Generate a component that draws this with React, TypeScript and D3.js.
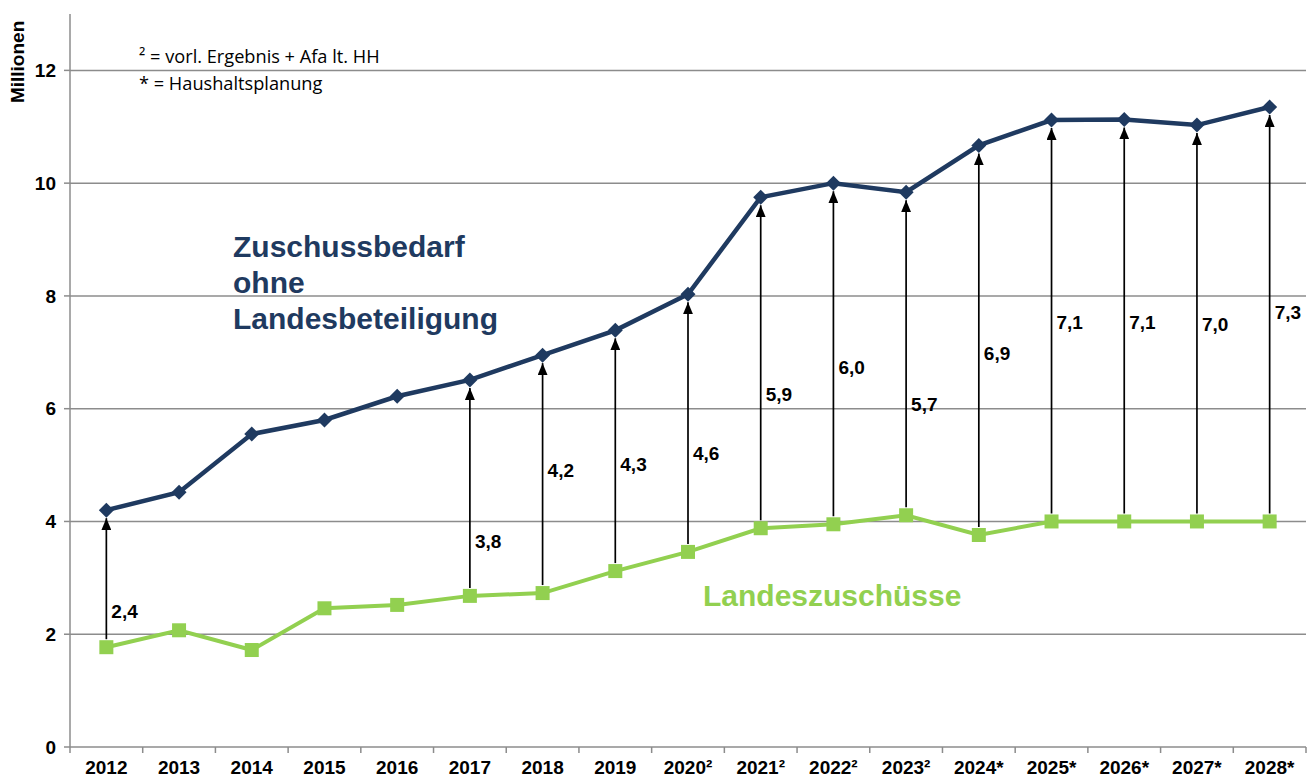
import React from 'react';
import * as d3 from 'd3';

const years = ['2012', '2013', '2014', '2015', '2016', '2017', '2018', '2019', '2020²', '2021²', '2022²', '2023²', '2024*', '2025*', '2026*', '2027*', '2028*'];
const zuschussbedarf = [4.2, 4.52, 5.55, 5.8, 6.22, 6.51, 6.95, 7.39, 8.03, 9.75, 10.0, 9.84, 10.67, 11.12, 11.13, 11.03, 11.35];
const landeszuschuesse = [1.77, 2.07, 1.72, 2.46, 2.52, 2.68, 2.73, 3.12, 3.46, 3.88, 3.95, 4.11, 3.76, 4.0, 4.0, 4.0, 4.0];
const arrowYears = ['2012', '2017', '2018', '2019', '2020²', '2021²', '2022²', '2023²', '2024*', '2025*', '2026*', '2027*', '2028*'];
const diffLabels = ['2,4', '3,8', '4,2', '4,3', '4,6', '5,9', '6,0', '5,7', '6,9', '7,1', '7,1', '7,0', '7,3'];
const diffLabelAt = [2.41, 3.65, 4.91, 5.02, 5.21, 6.26, 6.74, 6.08, 6.99, 7.54, 7.54, 7.5, 7.71];
const yTicks = [0, 2, 4, 6, 8, 10, 12];

const W = 1313;
const H = 778;
const margin = { top: 14, right: 7, bottom: 31, left: 70 };
const bold = 'Liberation Sans, Arial, sans-serif';

const App = () => {
  const x = d3.scaleBand().domain(years).range([margin.left, W - margin.right]);
  const y = d3.scaleLinear().domain([0, 13]).range([H - margin.bottom, margin.top]);
  const cx = (d: string) => (x(d) as number) + x.bandwidth() / 2;

  const line = d3.line<number>()
    .x((_, i) => cx(years[i]))
    .y((v) => y(v));

  // square turned 45 degrees, like the Excel marker
  const diamond = 'M0,-7.5L7.5,0L0,7.5L-7.5,0Z';

  return (
    <svg width={W} height={H} style={{ position: 'absolute', left: 0, top: 0, background: '#fff' }}>
      <defs>
        <marker id="ah" viewBox="0 0 12 10" refX="12" refY="5" markerWidth="12" markerHeight="10" markerUnits="userSpaceOnUse" orient="auto">
          <path d="M0,0 L12,5 L0,10 Z" fill="#000" />
        </marker>
      </defs>

      {yTicks.map((t) => (
        <g key={t}>
          {t > 0 && <line x1={margin.left} x2={W - margin.right} y1={y(t)} y2={y(t)} stroke="#8c8c8c" strokeWidth={1.5} />}
          <line x1={margin.left - 6} x2={margin.left} y1={y(t)} y2={y(t)} stroke="#8c8c8c" strokeWidth={1.5} />
          <text x={margin.left - 14} y={y(t)} dy="0.35em" textAnchor="end" fontFamily={bold} fontWeight="bold" fontSize={19}>{t}</text>
        </g>
      ))}

      <line x1={margin.left} x2={margin.left} y1={margin.top} y2={y(0)} stroke="#8c8c8c" strokeWidth={1.5} />
      <line x1={margin.left} x2={W - margin.right} y1={y(0)} y2={y(0)} stroke="#8c8c8c" strokeWidth={1.5} />
      {years.map((d) => (
        <line key={'t' + d} x1={x(d) as number} x2={x(d) as number} y1={y(0)} y2={y(0) + 6} stroke="#8c8c8c" strokeWidth={1.5} />
      ))}
      <line x1={W - margin.right} x2={W - margin.right} y1={y(0)} y2={y(0) + 6} stroke="#8c8c8c" strokeWidth={1.5} />
      {years.map((d) => (
        <text key={'l' + d} x={cx(d)} y={y(0) + 27} textAnchor="middle" fontFamily={bold} fontWeight="bold" fontSize={19}>{d}</text>
      ))}

      <text transform={`translate(24,${y(12.15)}) rotate(-90)`} textAnchor="middle" fontFamily={bold} fontWeight="bold" fontSize={19}>Millionen</text>

      <text x={139} y={63} fontFamily="Open Sans, sans-serif" fontSize={18.2}>² = vorl. Ergebnis + Afa lt. HH</text>
      <text x={139} y={90} fontFamily="Open Sans, sans-serif" fontSize={18.2}>* = Haushaltsplanung</text>

      {arrowYears.map((d, k) => {
        const i = years.indexOf(d);
        return (
          <g key={'a' + d}>
            <line x1={cx(d)} x2={cx(d)} y1={y(landeszuschuesse[i]) - 8} y2={y(zuschussbedarf[i]) + 8} stroke="#000" strokeWidth={1.7} markerEnd="url(#ah)" />
            <text x={cx(d) + 5} y={y(diffLabelAt[k])} dy="0.35em" fontFamily={bold} fontWeight="bold" fontSize={19}>{diffLabels[k]}</text>
          </g>
        );
      })}

      <path d={line(landeszuschuesse) as string} fill="none" stroke="#92d050" strokeWidth={4} />
      {landeszuschuesse.map((v, i) => (
        <rect key={'g' + i} x={cx(years[i]) - 7} y={y(v) - 7} width={14} height={14} fill="#92d050" />
      ))}

      <path d={line(zuschussbedarf) as string} fill="none" stroke="#1f3a60" strokeWidth={4.5} />
      {zuschussbedarf.map((v, i) => (
        <path key={'b' + i} d={diamond} transform={`translate(${cx(years[i])},${y(v)})`} fill="#1f3a60" />
      ))}

      <g fontFamily={bold} fontWeight="bold" fontSize={30} fill="#1f3a60">
        <text x={233} y={257}>Zuschussbedarf</text>
        <text x={233} y={293}>ohne</text>
        <text x={233} y={329}>Landesbeteiligung</text>
      </g>
      <text x={703} y={606} fontFamily={bold} fontWeight="bold" fontSize={30} fill="#92d050">Landeszuschüsse</text>
    </svg>
  );
};

export default App;
